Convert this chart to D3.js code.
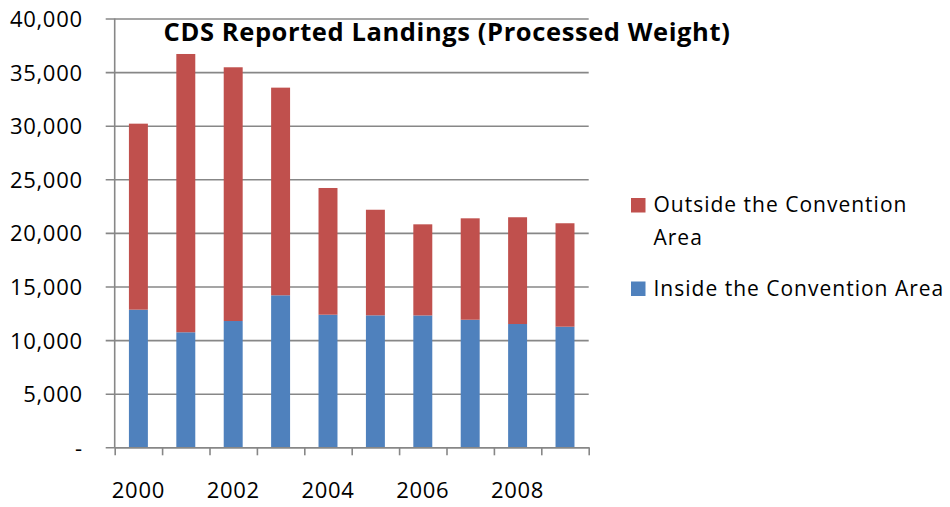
<!DOCTYPE html>
<html>
<head>
<meta charset="utf-8">
<script src="https://cdn.jsdelivr.net/npm/d3@7"></script>
<style>
  body { margin: 0; background: #fff; }
  svg { display: block; }
  text { font-family: "Open Sans", "Liberation Sans", sans-serif; fill: #000; }
</style>
</head>
<body>
<svg id="chart" width="950" height="507"></svg>
<script>
// CDS reported landings (processed weight), tonnes per year
const years = [2000, 2001, 2002, 2003, 2004, 2005, 2006, 2007, 2008, 2009];
const insideValues  = [12840, 10730, 11780, 14180, 12370, 12310, 12300, 11900, 11500, 11250];
const outsideValues = [17350, 25960, 23670, 19370, 11820,  9850,  8500,  9460,  9960,  9650];
const yTickValues = [0, 5000, 10000, 15000, 20000, 25000, 30000, 35000, 40000];
const labelledYears = [2000, 2002, 2004, 2006, 2008];
const seriesKeys = ["inside", "outside"];
const seriesColors = ["#4F81BD", "#C0504D"];
const titleText = "CDS Reported Landings (Processed Weight)";
const legendItems = [
  { key: "outside", lines: ["Outside the Convention", "Area"] },
  { key: "inside",  lines: ["Inside the Convention Area"] }
];

const svg = d3.select("#chart");
const margin = { left: 114.7, top: 18.5 };
const plotW = 474, plotH = 428.8;

const rows = years.map((y, i) => ({ year: y, inside: insideValues[i], outside: outsideValues[i] }));
const stacked = d3.stack().keys(seriesKeys)(rows);
const color = d3.scaleOrdinal().domain(seriesKeys).range(seriesColors);

const x = d3.scaleBand().domain(years).range([0, plotW]).paddingInner(0.6).paddingOuter(0.3);
const xEdges = d3.scaleLinear().domain([0, years.length]).range([0, plotW]);
const y = d3.scaleLinear().domain([0, 40000]).range([plotH, 0]);

const g = svg.append("g").attr("transform", `translate(${margin.left},${margin.top})`);

// horizontal gridlines with outward tick marks
const yAxis = d3.axisLeft(y)
  .tickValues(yTickValues)
  .tickSize(-plotW)
  .tickSizeOuter(0)
  .tickPadding(32)
  .tickFormat(v => v === 0 ? "-" : d3.format(",")(v));
const yG = g.append("g").call(yAxis);
yG.select(".domain").remove();
yG.selectAll(".tick line")
  .attr("x1", -9)
  .attr("stroke", "#878787")
  .attr("stroke-width", 1.6);
yG.selectAll(".tick text")
  .style("font-size", "22px")
  .style("letter-spacing", "0.7px")
  .attr("dy", "0.36em");

// stacked bars
g.append("g").selectAll("g")
  .data(stacked)
  .join("g")
  .attr("fill", d => color(d.key))
  .selectAll("rect")
  .data(d => d)
  .join("rect")
  .attr("x", d => x(d.data.year))
  .attr("width", x.bandwidth())
  .attr("y", d => y(d[1]))
  .attr("height", d => y(d[0]) - y(d[1]));

// vertical axis line
g.append("line")
  .attr("x1", 0).attr("x2", 0)
  .attr("y1", 0).attr("y2", plotH)
  .attr("stroke", "#878787").attr("stroke-width", 1.6);

// category axis: tick marks between categories
const xAxis = d3.axisBottom(xEdges)
  .tickValues(d3.range(0, years.length + 1))
  .tickSize(8)
  .tickSizeOuter(0)
  .tickFormat("");
const xG = g.append("g").attr("transform", `translate(0,${plotH})`).call(xAxis);
xG.select(".domain").attr("stroke", "#878787").attr("stroke-width", 1.6);
xG.selectAll(".tick line").attr("stroke", "#878787").attr("stroke-width", 1.6);

// year labels on every other category
g.append("g").selectAll("text")
  .data(labelledYears)
  .join("text")
  .attr("x", d => x(d) + x.bandwidth() / 2)
  .attr("y", plotH + 51)
  .attr("text-anchor", "middle")
  .style("font-size", "22px")
  .style("letter-spacing", "0.7px")
  .text(d => d);

// title
svg.append("text")
  .attr("x", 447)
  .attr("y", 41)
  .attr("text-anchor", "middle")
  .style("font-size", "25.5px")
  .style("font-weight", "bold")
  .style("letter-spacing", "0.6px")
  .text(titleText);

// legend
const legend = svg.append("g").attr("transform", "translate(631,198)");
const legendRowY = { outside: 0, inside: 83.5 };
legendItems.forEach(item => {
  const row = legend.append("g").attr("transform", `translate(0,${legendRowY[item.key]})`);
  row.append("rect")
    .attr("width", 14.5).attr("height", 14.5)
    .attr("fill", color(item.key));
  row.selectAll("text")
    .data(item.lines)
    .join("text")
    .attr("x", 22.5)
    .attr("y", (d, i) => 14 + i * 33)
    .style("font-size", "21px")
    .style("letter-spacing", "1px")
    .text(d => d);
});
</script>
</body>
</html>
